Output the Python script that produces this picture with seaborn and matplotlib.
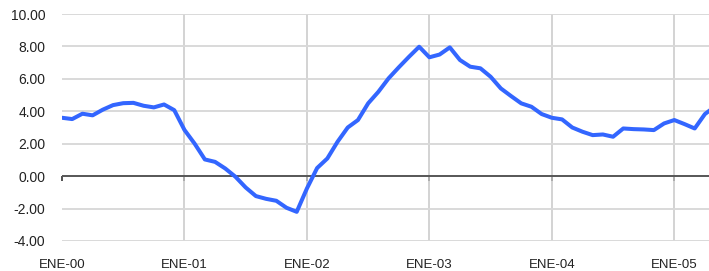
"""
plot.py

Monthly series from ENE-00 to early 2005, drawn as one thick blue line
with a zero baseline and year gridlines.
"""

import matplotlib
matplotlib.use("Agg")
import matplotlib.pyplot as plt
import numpy as np
import pandas as pd
import seaborn as sns

# --- Data (one value per month from ENE-00) ---
values = [
    3.60, 3.52, 3.85, 3.75, 4.10, 4.38, 4.50, 4.52, 4.34, 4.24, 4.42, 4.07,    # 2000
    2.85, 2.00, 1.03, 0.88, 0.47, -0.04, -0.70, -1.23, -1.40, -1.52, -1.95, -2.20,  # 2001
    -0.76, 0.50, 1.09, 2.12, 3.00, 3.46, 4.49, 5.20, 6.03, 6.71, 7.36, 7.98,   # 2002
    7.33, 7.50, 7.94, 7.16, 6.75, 6.65, 6.13, 5.41, 4.94, 4.49, 4.28, 3.83,    # 2003
    3.60, 3.50, 3.00, 2.74, 2.53, 2.57, 2.43, 2.94, 2.90, 2.88, 2.84, 3.25,    # 2004
    3.46, 3.21, 2.94, 3.83, 4.30,                                              # 2005
]
months = list(range(len(values)))
year_ticks = [0, 12, 24, 36, 48, 60]
year_labels = ["ENE-00", "ENE-01", "ENE-02", "ENE-03", "ENE-04", "ENE-05"]
y_ticks = [-4, -2, 0, 2, 4, 6, 8, 10]

LINE_COLOR = "#3366ff"


def main():
    df = pd.DataFrame({"month": months, "value": values})

    sns.set_theme(style="white")
    plt.rcParams["font.family"] = ["Liberation Sans", "DejaVu Sans"]

    fig = plt.figure(figsize=(7.09, 2.71), dpi=100)
    ax = fig.add_axes([62 / 709, 1 - 241 / 271, 1 - 62 / 709, (241 - 14) / 271])

    sns.lineplot(data=df, x="month", y="value", color=LINE_COLOR,
                 linewidth=2.9, ax=ax, zorder=3,
                 solid_joinstyle="round", solid_capstyle="round")

    ax.set_xlim(0, 63.4)
    ax.set_ylim(-4, 10)
    ax.set_yticks(y_ticks)
    ax.set_yticklabels([f"{v:.2f}" for v in y_ticks], fontsize=10, color="#222222")
    ax.set_xticks(year_ticks)
    ax.set_xticklabels(year_labels, fontsize=9.5, color="#222222")
    ax.tick_params(axis="y", length=0, pad=12)
    ax.tick_params(axis="x", length=0, pad=13)
    ax.set_xlabel("")
    ax.set_ylabel("")

    # light grid, vertical lines only at the year marks after the first
    ax.grid(True, axis="y", color="#d9d9d9", linewidth=1.4)
    ax.grid(True, axis="x", color="#c8c8c8", linewidth=1.1)
    ax.get_xgridlines()[0].set_visible(False)
    for spine in ax.spines.values():
        spine.set_visible(False)

    # zero baseline with small year ticks
    ax.axhline(0, color="#333333", linewidth=1.1, zorder=2)
    base = ax.secondary_xaxis(0, transform=ax.transData)
    base.set_xticks(year_ticks)
    base.set_xticklabels([])
    base.tick_params(axis="x", direction="out", length=3.5, width=1.1, color="#222222")
    for spine in base.spines.values():
        spine.set_visible(False)

    fig.savefig("out.png", dpi=100)
    plt.close(fig)


if __name__ == "__main__":
    main()
